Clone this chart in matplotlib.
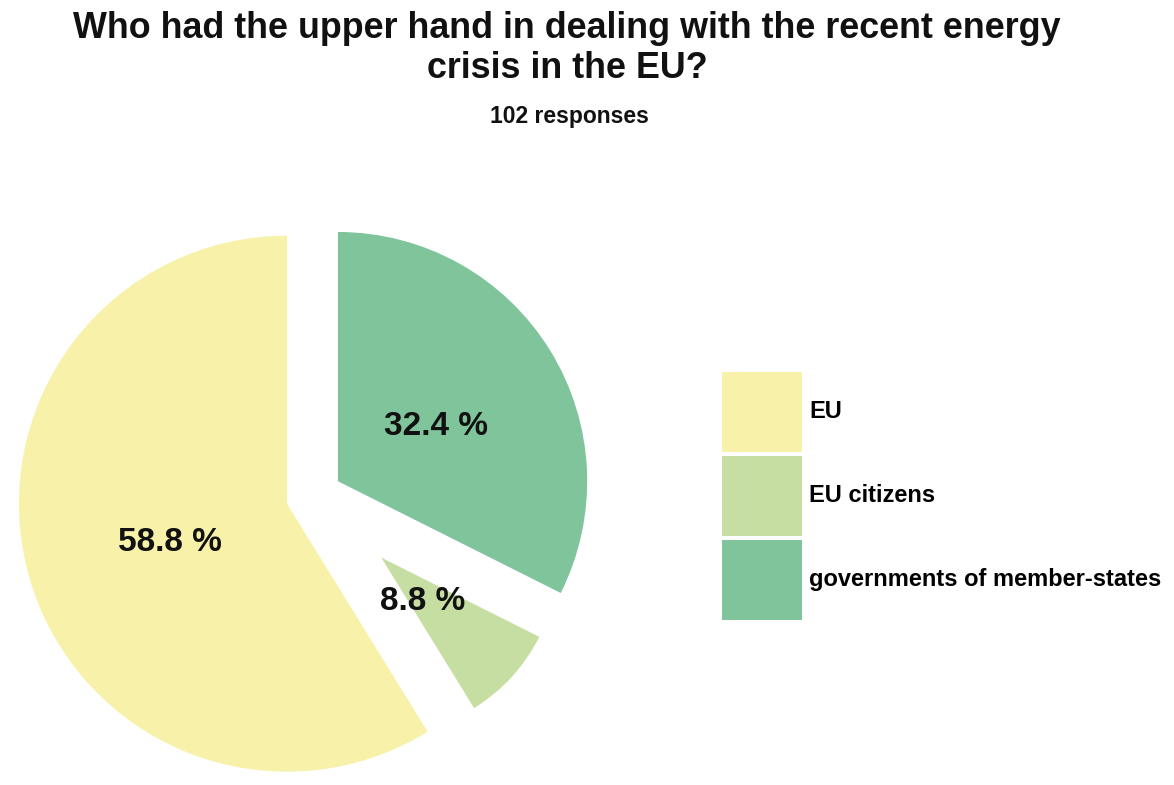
import numpy as np
import matplotlib.pyplot as plt
from matplotlib.patches import Patch

plt.rcParams['font.family'] = ['Liberation Sans', 'DejaVu Sans']

labels = ['EU', 'EU citizens', 'governments of member-states']
shares = [58.8, 8.8, 32.4]
colors = ['#F7F1AA', '#C6DEA2', '#80C49B']
explode = [0.105, 0.34, 0.105]
radii = [1.0, 0.66, 0.93]
pct_dist = [0.455, 0.21, 0.43]

W, H = 1174, 785
fig = plt.figure(figsize=(W / 100, H / 100), dpi=100)
ax = fig.add_axes([0, 0, 1, 1])

# pie centre and radius in pixels
cx, cy, R = 314, 496, 268

wedges, _ = ax.pie(shares, colors=colors, explode=explode, startangle=90,
                   counterclock=True, radius=1.0)
for w, r, d, v in zip(wedges, radii, pct_dist, shares):
    w.set_radius(r)
    w.set_linewidth(0)
    mid = np.deg2rad((w.theta1 + w.theta2) / 2)
    x0, y0 = w.center
    ax.text(x0 + d * np.cos(mid), y0 + d * np.sin(mid) - 0.022, f'{v} %',
            ha='center', va='center', fontsize=24, fontweight='bold', color='#111111')

ax.set_xlim(-cx / R, (W - cx) / R)
ax.set_ylim(-(H - cy) / R, cy / R)
ax.set_aspect('auto')
ax.axis('off')

title_lines = ['Who had the upper hand in dealing with the recent energy', 'crisis in the EU?']
for line, ypx in zip(title_lines, [29, 69]):
    fig.text(567 / W, 1 - ypx / H, line, ha='center', va='center',
             fontsize=25.8, fontweight='bold', color='#111111')
fig.text(569 / W, 1 - 117 / H, '102 responses', ha='center', va='center',
         fontsize=16.5, fontweight='bold', color='#111111')

handles = [Patch(facecolor=c, edgecolor='none') for c in colors]
fs = 17
fpx = fs * 100 / 72
fig.legend(handles, labels, loc='upper left', bbox_to_anchor=(722 / W, 1 - 372 / H),
           frameon=False, borderpad=0, borderaxespad=0,
           prop={'weight': 'bold', 'size': fs},
           handlelength=80 / fpx, handleheight=(80 / fpx - 0.245) / 0.65,
           labelspacing=4 / fpx, handletextpad=7 / fpx)

fig.savefig('out.png', dpi=100)
